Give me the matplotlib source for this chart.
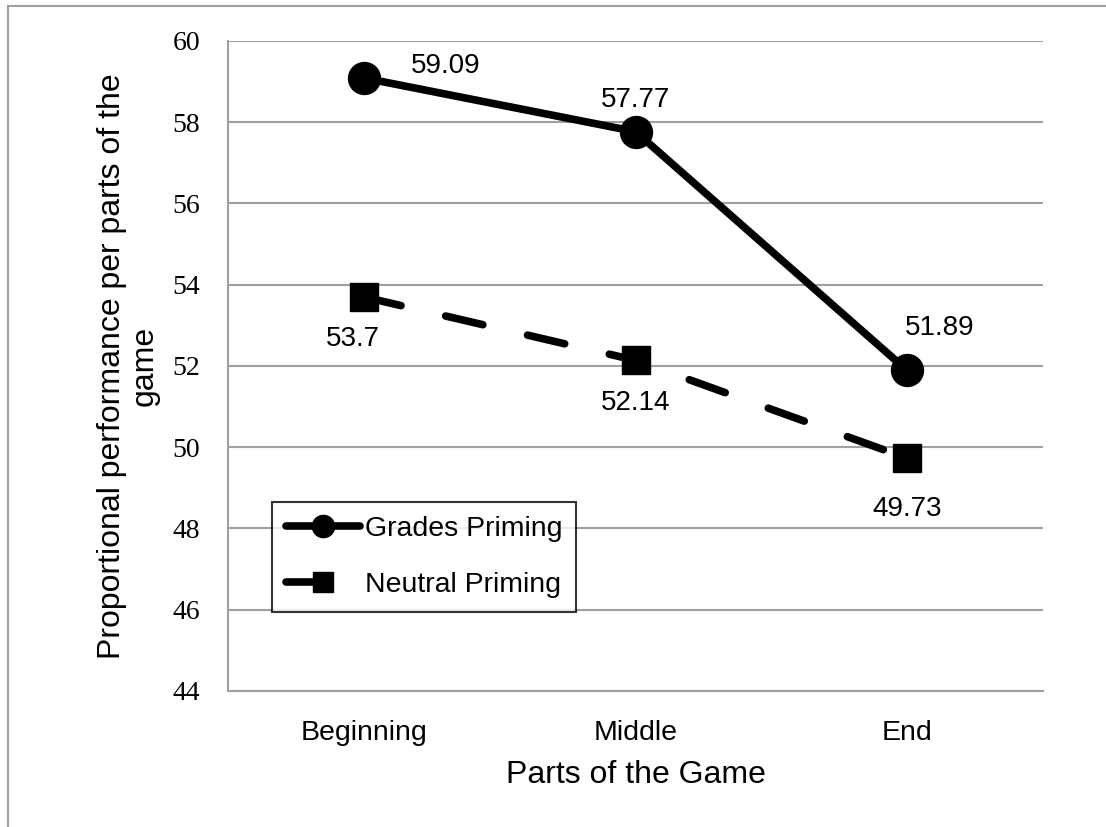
import matplotlib.pyplot as plt
from matplotlib.lines import Line2D

# ── Dati ────────────────────────────────────────────────────
parts = ["Beginning", "Middle", "End"]
grades = [59.09, 57.77, 51.89]
neutral = [53.7, 52.14, 49.73]
grades_lbl = ["59.09", "57.77", "51.89"]
neutral_lbl = ["53.7", "52.14", "49.73"]
y_ticks = [44, 46, 48, 50, 52, 54, 56, 58, 60]
# ────────────────────────────────────────────────────────────

SANS = "Liberation Sans"
SERIF = "Liberation Serif"
DASH = (0, (5, 6))
LW = 5.5

fig = plt.figure(figsize=(11.06, 8.27), dpi=100)
ax = fig.add_axes([228 / 1106, 136 / 827, 815 / 1106, 650 / 827])

x = list(range(len(parts)))
ax.plot(x, grades, color="black", lw=LW, marker="o", markersize=23,
        solid_capstyle="round", zorder=3)
ax.plot(x, neutral, color="black", lw=LW, marker="s", markersize=19.5,
        linestyle=DASH, dash_capstyle="round", zorder=3)

# etichette dei valori (offset in pixel)
g_off = [(82, 12), (0, 32), (33, 42)]
n_off = [(-11, -42), (0, -43), (0, -51)]
for i in x:
    ax.annotate(grades_lbl[i], (i, grades[i]), xytext=g_off[i],
                textcoords="offset pixels", ha="center", va="center",
                fontsize=20, family=SANS)
    ax.annotate(neutral_lbl[i], (i, neutral[i]), xytext=n_off[i],
                textcoords="offset pixels", ha="center", va="center",
                fontsize=20, family=SANS)

ax.set_xlim(-0.5, 2.5)
ax.set_ylim(44, 60)
ax.set_yticks(y_ticks)
ax.set_yticklabels([str(t) for t in y_ticks], family=SERIF, fontsize=20)
ax.set_xticks(x)
ax.set_xticklabels(parts, family=SANS, fontsize=20.5)
ax.tick_params(length=0)
ax.tick_params(axis="y", pad=20)
ax.tick_params(axis="x", pad=21)

ax.grid(axis="y", color="#a0a0a0", lw=1.5)
ax.set_axisbelow(True)
for s in ["top", "right"]:
    ax.spines[s].set_visible(False)
for s in ["left", "bottom"]:
    ax.spines[s].set_color("#a0a0a0")
    ax.spines[s].set_linewidth(1.5)

ax.set_xlabel("Parts of the Game", family=SANS, fontsize=23, labelpad=10)
ax.set_ylabel("Proportional performance per parts of the\ngame",
              family=SANS, fontsize=23, labelpad=9, linespacing=1.15)

handles = [
    Line2D([], [], color="black", lw=LW, marker="o", markersize=16,
           solid_capstyle="round"),
    Line2D([], [], color="black", lw=LW, marker="s", markersize=14,
           linestyle=DASH, dash_capstyle="round"),
]
leg = ax.legend(handles, ["Grades Priming", "Neutral Priming"],
                loc="upper left", bbox_to_anchor=(44 / 815, 1 - 461 / 650),
                prop={"family": SANS, "size": 20.5}, frameon=True,
                fancybox=False, handlelength=2.6, handletextpad=0.15,
                borderpad=0.5, borderaxespad=0, labelspacing=1.05)
leg.get_frame().set_edgecolor("black")
leg.get_frame().set_linewidth(1.5)

# bordo esterno del grafico
fig.add_artist(Line2D([8 / 1106, 8 / 1106], [0, 1 - 6 / 827],
                      transform=fig.transFigure, color="#a0a0a0", lw=1.5))
fig.add_artist(Line2D([8 / 1106, 1], [1 - 6 / 827, 1 - 6 / 827],
                      transform=fig.transFigure, color="#a0a0a0", lw=1.5))

fig.savefig("out.png", dpi=100)
